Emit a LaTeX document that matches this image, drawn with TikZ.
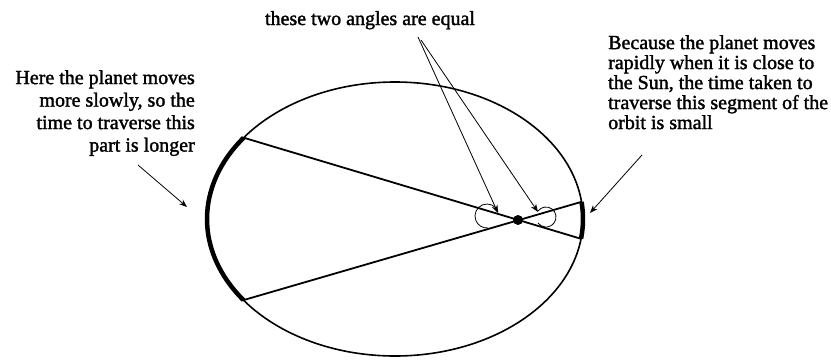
\documentclass[tikz,border=0pt]{standalone}
\usepackage{fontspec}
\newfontfamily\labelfont{Liberation Serif}[FakeBold=1.6]
\usetikzlibrary{arrows.meta}
\begin{document}
\begin{tikzpicture}[x=1pt,y=-1pt,
  lbl/.style={font=\labelfont\fontsize{20}{22.5}\selectfont, inner sep=0pt},
  orbit/.style={line width=1.6pt},
  chord/.style={line width=1.8pt},
  sweep/.style={line width=4.5pt},
  pointer/.style={line width=0.8pt, -{Stealth[length=8pt,width=6pt]}},
  loopline/.style={line width=0.8pt}]
\useasboundingbox (0,0) rectangle (831,360);
\fill[white] (0,0) rectangle (831,360);
% orbit
\coordinate (C) at (395,219);
\draw[orbit] (C) ellipse [x radius=188, y radius=137];
% sun
\coordinate (S) at (518,220);
% chord end points on the orbit
\path (C) ++(-143.6:188 and 137) coordinate (A1);
\path (C) ++(143.7:188 and 137) coordinate (A2);
\path (C) ++(-7.2:188 and 137) coordinate (B1);
\path (C) ++(8.3:188 and 137) coordinate (B2);
% thick swept arcs
\draw[sweep] (C) ++(-143.6:188 and 137) arc[start angle=-143.6, end angle=-216.3, x radius=188, y radius=137];
\draw[sweep] (C) ++(-7.2:188 and 137) arc[start angle=-7.2, end angle=8.3, x radius=188, y radius=137];
% chords through the sun
\draw[chord] (A1) -- (B2);
\draw[chord] (A2) -- (B1);
\fill (S) circle (5);
% angle loops
\draw[loopline] (487,216) ++(-22:12) arc[start angle=-22, end angle=-275, radius=12];
\draw[loopline] (546,217) ++(-143:10) arc[start angle=-143, end angle=143, radius=10];
% texts
\node[lbl, anchor=base] (top) at (370,25) {these two angles are equal};
\node[lbl, anchor=north east, align=right] (left) at (195,70)
  {Here the planet moves\\more slowly, so the\\time to traverse this\\part is longer};
\node[lbl, anchor=north west, align=left, font=\labelfont\fontsize{20}{20}\selectfont] (right) at (608,35)
  {Because the planet moves\\rapidly when it is close to\\the Sun, the time taken to\\traverse this segment of the\\orbit is small};
% pointers
\coordinate (p0) at (418,37);
\coordinate (p1) at (421,40);
\coordinate (t1) at (498,213);
\coordinate (t2) at (538,212);
\draw[pointer] (p0) -- (t1);
\draw[pointer] (p1) -- (t2);
\coordinate (l0) at (138,165);
\coordinate (l1) at (187,207);
\draw[pointer] (l0) -- (l1);
\coordinate (r0) at (642,155);
\coordinate (r1) at (590,213);
\draw[pointer] (r0) -- (r1);
\end{tikzpicture}
\end{document}
